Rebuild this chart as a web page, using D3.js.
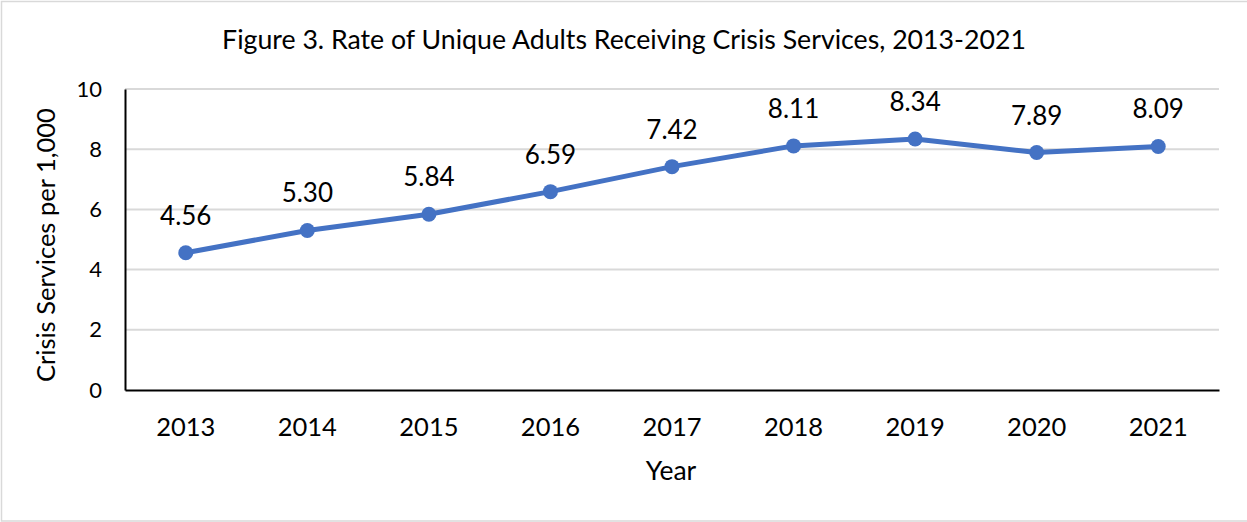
<!DOCTYPE html>
<html>
<head>
<meta charset="utf-8">
<script src="https://cdn.jsdelivr.net/npm/d3@7"></script>
<style>
  html, body { margin: 0; padding: 0; background: #fff; }
  svg text { font-family: Lato, "Open Sans", sans-serif; fill: #000; }
</style>
</head>
<body>
<svg id="chart" width="1247" height="522"></svg>
<script>
const years = ["2013", "2014", "2015", "2016", "2017", "2018", "2019", "2020", "2021"];
const rates = [4.56, 5.30, 5.84, 6.59, 7.42, 8.11, 8.34, 7.89, 8.09];
const yTicks = [0, 2, 4, 6, 8, 10];

const title = "Figure 3. Rate of Unique Adults Receiving Crisis Services, 2013-2021";
const xTitle = "Year";
const yTitle = "Crisis Services per 1,000";

const W = 1247, H = 522;
const margin = { top: 89, right: 28, bottom: 132, left: 125 };
const svg = d3.select("#chart");

// outer frame (its right edge runs past the canvas)
svg.append("rect")
  .attr("x", 1.5).attr("y", 1.5)
  .attr("width", W + 4).attr("height", H - 2.5)
  .attr("fill", "#fff").attr("stroke", "#d9d9d9").attr("stroke-width", 1.5);

const x = d3.scaleBand().domain(years).range([margin.left, W - margin.right]);
const y = d3.scaleLinear().domain([0, 10]).range([H - margin.bottom, margin.top]);

// horizontal gridlines
svg.append("g")
  .selectAll("line")
  .data(yTicks.filter(t => t > 0))
  .join("line")
  .attr("x1", margin.left).attr("x2", W - margin.right)
  .attr("y1", d => y(d)).attr("y2", d => y(d))
  .attr("stroke", "#d9d9d9").attr("stroke-width", 2);

// y axis
const yAxis = svg.append("g")
  .attr("transform", `translate(${margin.left},0)`)
  .call(d3.axisLeft(y).tickValues(yTicks).tickSize(0).tickPadding(23));
yAxis.select(".domain").attr("stroke", "#000").attr("stroke-width", 2);
yAxis.selectAll("text").style("font-size", "22px");

// x axis
const xAxis = svg.append("g")
  .attr("transform", `translate(0,${H - margin.bottom})`)
  .call(d3.axisBottom(x).tickSize(0).tickPadding(28));
xAxis.select(".domain").attr("stroke", "#000").attr("stroke-width", 2);
xAxis.selectAll("text").style("font-size", "25.5px");

// series line
const line = d3.line()
  .x((d, i) => x(years[i]) + x.bandwidth() / 2)
  .y(d => y(d));

svg.append("path")
  .datum(rates)
  .attr("d", line)
  .attr("fill", "none")
  .attr("stroke", "#4472c4")
  .attr("stroke-width", 5)
  .attr("stroke-linejoin", "round");

svg.append("g")
  .selectAll("circle")
  .data(rates)
  .join("circle")
  .attr("cx", (d, i) => x(years[i]) + x.bandwidth() / 2)
  .attr("cy", d => y(d))
  .attr("r", 7.5)
  .attr("fill", "#4472c4");

// value labels
svg.append("g")
  .selectAll("text")
  .data(rates)
  .join("text")
  .attr("x", (d, i) => x(years[i]) + x.bandwidth() / 2)
  .attr("y", d => y(d) - 28)
  .attr("text-anchor", "middle")
  .style("font-size", "26px")
  .text(d => d.toFixed(2));

// titles
svg.append("text")
  .attr("x", 624).attr("y", 49)
  .attr("text-anchor", "middle")
  .style("font-size", "26.7px")
  .text(title);

svg.append("text")
  .attr("x", 671).attr("y", 480)
  .attr("text-anchor", "middle")
  .style("font-size", "26.5px")
  .text(xTitle);

svg.append("text")
  .attr("transform", `translate(55,245) rotate(-90)`)
  .attr("text-anchor", "middle")
  .style("font-size", "25.5px")
  .text(yTitle);
</script>
</body>
</html>
